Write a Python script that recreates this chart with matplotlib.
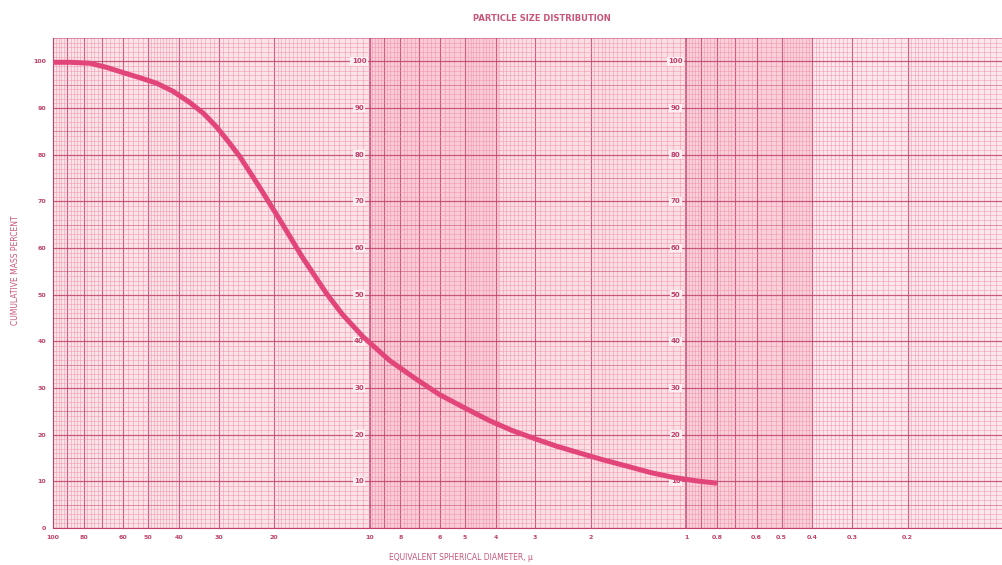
import numpy as np
import matplotlib.pyplot as plt

# values
diameter = [100, 88.4, 76.4, 67.6, 60.1, 53.2, 47.0, 41.8, 37.0, 33.4, 30.4, 28.0, 25.7, 22.2,
            19.2, 16.3, 13.7, 12.2, 10.5, 8.65, 7.2, 6.02, 5.0, 4.18, 3.55, 2.97, 2.56, 2.18,
            1.83, 1.51, 1.30, 1.11, 0.93, 0.80]
cum_pct = [99.8, 99.8, 99.6, 98.7, 97.6, 96.5, 95.3, 93.6, 91.2, 88.8, 85.9, 82.9, 79.6, 72.9,
           66.0, 58.0, 50.3, 45.8, 41.0, 35.9, 32.1, 28.6, 25.7, 23.0, 20.9, 19.0, 17.5, 16.1,
           14.6, 13.1, 11.9, 10.9, 10.1, 9.6]

x_tick_vals = [100, 80, 60, 50, 40, 30, 20, 10, 8, 6, 5, 4, 3, 2, 1, 0.8, 0.6, 0.5, 0.4, 0.3, 0.2]
x_tick_labels = ['100', '80', '60', '50', '40', '30', '20', '10', '8', '6', '5', '4', '3', '2',
                 '1', '0.8', '0.6', '0.5', '0.4', '0.3', '0.2']
y_tick_vals = [0, 10, 20, 30, 40, 50, 60, 70, 80, 90, 100]
inner_pct = [10, 20, 30, 40, 50, 60, 70, 80, 90, 100]
inner_cols = [10.8, 1.08]

title = 'PARTICLE SIZE DISTRIBUTION'
x_label = 'EQUIVALENT SPHERICAL DIAMETER, \u03bc'
y_label = 'CUMULATIVE MASS PERCENT'

ink = '#c8557a'
dark = '#c0406a'
curve_col = '#e2457a'

fig = plt.figure(figsize=(10.03, 5.65), dpi=100)
ax = fig.add_axes([0.0528, 0.0655, 0.9472, 0.8672])
ax.set_xscale('log')
ax.set_xlim(100, 0.1)
ax.set_ylim(0, 105)
ax.set_facecolor('#fff4f6')

# tinted bands of the printed paper
ax.axvspan(100, 10, color='#f7c4d0', alpha=0.35, lw=0)
ax.axvspan(10, 3.9, color='#f29ab0', alpha=0.45, lw=0)
ax.axvspan(3.9, 1, color='#f5b5c5', alpha=0.35, lw=0)
ax.axvspan(1, 0.4, color='#f29ab0', alpha=0.4, lw=0)
ax.axvspan(0.4, 0.1, color='#f7c4d0', alpha=0.25, lw=0)

# graph paper lines - vertical
for dec in [10, 1, 0.1]:
    fine = np.concatenate([np.arange(1, 2, 0.05), np.arange(2, 5, 0.1), np.arange(5, 10, 0.2)]) * dec
    for v in fine:
        ax.axvline(v, color='#f08aa4', lw=0.45, alpha=0.7, zorder=1)
    for k in range(2, 10):
        ax.axvline(k * dec, color=dark, lw=0.8, alpha=0.75, zorder=1)
    ax.axvline(10 * dec, color=dark, lw=1.1, alpha=0.9, zorder=1)
ax.axvline(0.1, color=dark, lw=1.1, alpha=0.9, zorder=1)

# horizontal
for p in np.arange(0, 105.1, 1):
    if p % 10 == 0:
        ax.axhline(p, color=dark, lw=0.9, alpha=0.85, zorder=1)
    elif p % 5 == 0:
        ax.axhline(p, color=dark, lw=0.6, alpha=0.6, zorder=1)
    else:
        ax.axhline(p, color='#f08aa4', lw=0.45, alpha=0.7, zorder=1)

for s in ax.spines.values():
    s.set_color(dark)
    s.set_linewidth(0.8)
ax.spines['top'].set_visible(False)
ax.spines['right'].set_visible(False)

ax.plot(diameter, cum_pct, color=curve_col, lw=3.6, solid_capstyle='butt',
        solid_joinstyle='round', zorder=5)

# repeated percent scales inside the paper
for xc in inner_cols:
    for p in inner_pct:
        ax.text(xc, p, str(p), fontsize=5, color=dark, fontweight='bold',
                ha='center', va='center', zorder=4,
                bbox=dict(boxstyle='square,pad=0.2', fc='#fdeef2', ec='none'))

ax.set_xticks(x_tick_vals)
ax.set_xticklabels(x_tick_labels)
ax.xaxis.set_minor_locator(plt.NullLocator())
ax.set_yticks(y_tick_vals)
ax.set_yticklabels([str(v) for v in y_tick_vals])
ax.tick_params(axis='both', length=0, labelsize=4.5, labelcolor=dark, pad=5)
for lab in ax.get_xticklabels() + ax.get_yticklabels():
    lab.set_fontweight('bold')

fig.text(0.54, 0.968, title, ha='center', va='center', fontsize=6, color=ink, fontweight='bold')
fig.text(0.46, 0.013, x_label, ha='center', va='center', fontsize=5.5, color=ink)
fig.text(0.015, 0.522, y_label, ha='center', va='center', rotation=90, fontsize=5.5, color=ink)

fig.savefig('out.png', dpi=100)
